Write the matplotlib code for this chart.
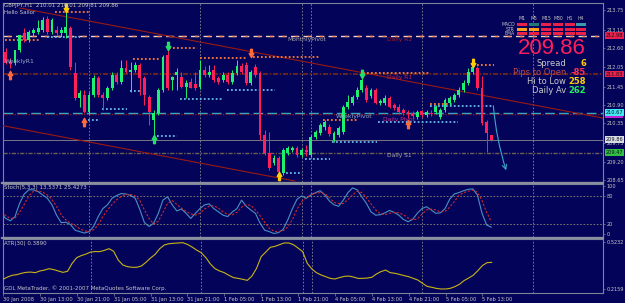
import numpy as np
import matplotlib
matplotlib.use('Agg')
import matplotlib.pyplot as plt
from matplotlib.path import Path
from matplotlib.patches import Rectangle

# GBPJPY H1, first bar 30 Jan 05:00, last bar 5 Feb 15:00
opens = [212.34, 212.49, 212.19, 212.16, 212.55, 213.06, 212.85, 213.06, 213.09, 213.15,
         213.48, 213.09, 213.15, 213.06, 213.06, 213.21, 211.86, 211.11, 211.20, 210.69,
         211.20, 211.71, 211.20, 211.11, 211.41, 211.80, 211.59, 212.01, 211.89, 211.95,
         212.10, 211.71, 211.14, 210.45, 210.66, 211.35, 212.40, 211.65, 211.80, 211.74,
         211.44, 211.59, 211.53, 211.44, 211.95, 211.80, 211.95, 211.71, 211.65, 211.80,
         211.59, 211.86, 212.07, 212.10, 211.56, 212.04, 211.86, 210.00, 209.46, 209.16,
         209.31, 208.86, 209.46, 209.55, 209.61, 209.40, 209.55, 209.40, 209.94, 210.06,
         210.24, 210.24, 209.85, 210.00, 210.09, 210.84, 210.96, 211.14, 211.35, 211.41,
         211.17, 211.35, 210.96, 210.96, 211.11, 210.90, 210.84, 210.75, 210.69, 210.66,
         210.54, 210.71, 210.60, 210.66, 210.69, 210.54, 210.75, 210.96, 211.05, 211.20,
         211.35, 211.56, 211.89, 212.01, 211.41, 210.39, 210.01]
highs = [212.55, 212.61, 212.31, 212.25, 212.64, 213.21, 213.15, 213.21, 213.45, 213.54,
         213.57, 213.51, 213.27, 213.24, 213.69, 213.27, 212.19, 211.35, 211.35, 211.29,
         211.80, 211.77, 211.29, 211.47, 211.89, 211.89, 212.25, 212.25, 212.19, 212.19,
         212.16, 211.77, 211.20, 210.75, 211.41, 212.40, 212.61, 211.77, 212.01, 211.89,
         211.65, 211.71, 211.89, 212.25, 212.07, 212.10, 212.10, 211.77, 211.89, 211.89,
         211.95, 212.25, 212.16, 212.19, 211.95, 212.13, 211.92, 210.15, 210.09, 209.40,
         209.37, 209.61, 209.67, 209.67, 209.67, 209.61, 209.70, 210.00, 210.15, 210.36,
         210.45, 210.33, 210.12, 210.27, 210.90, 211.20, 211.20, 211.44, 211.71, 211.50,
         211.41, 211.41, 211.08, 211.20, 211.17, 210.96, 210.93, 210.81, 210.75, 210.72,
         210.75, 210.75, 210.75, 210.75, 210.90, 210.81, 211.11, 211.17, 211.26, 211.44,
         211.65, 212.01, 212.13, 212.07, 211.77, 210.45, 210.01]
lows = [212.25, 212.13, 212.01, 212.10, 212.49, 212.79, 212.79, 212.97, 213.03, 213.09,
        213.03, 213.03, 213.00, 212.97, 212.91, 211.95, 211.05, 210.84, 210.66, 210.63,
        211.14, 211.14, 210.75, 211.05, 211.35, 211.53, 211.53, 211.86, 211.29, 211.89,
        211.20, 210.90, 210.30, 209.97, 210.60, 211.29, 211.35, 211.35, 211.35, 211.41,
        211.11, 211.41, 211.35, 211.38, 211.74, 211.74, 211.59, 211.53, 211.59, 211.53,
        211.53, 211.80, 211.83, 211.50, 211.50, 211.74, 209.85, 209.40, 208.95, 209.10,
        208.83, 208.80, 209.40, 209.49, 209.34, 209.34, 209.37, 209.34, 209.88, 210.00,
        210.15, 209.97, 209.79, 209.94, 210.03, 210.78, 210.90, 211.08, 211.29, 210.99,
        211.11, 210.93, 210.90, 210.90, 210.81, 210.75, 210.63, 210.60, 210.51, 210.51,
        210.48, 210.54, 210.54, 210.57, 210.63, 210.48, 210.69, 210.90, 210.99, 211.14,
        211.29, 211.50, 211.83, 211.35, 210.30, 209.49, 209.81]
closes = [212.49, 212.16, 212.13, 212.55, 213.00, 212.85, 213.09, 213.15, 213.21, 213.45,
          213.09, 213.45, 213.06, 213.15, 213.24, 212.04, 211.11, 211.26, 210.69, 211.20,
          211.71, 211.20, 211.11, 211.41, 211.80, 211.59, 212.01, 211.89, 211.95, 212.10,
          211.71, 211.20, 210.69, 210.66, 211.35, 212.34, 211.41, 211.74, 211.89, 211.44,
          211.56, 211.41, 211.41, 211.95, 211.80, 211.89, 211.65, 211.59, 211.80, 211.59,
          211.86, 212.07, 211.89, 211.56, 211.89, 211.80, 210.00, 209.46, 209.01, 209.31,
          208.89, 209.55, 209.61, 209.61, 209.40, 209.55, 209.49, 209.94, 210.09, 210.30,
          210.39, 210.03, 210.06, 210.21, 210.84, 210.99, 211.14, 211.35, 211.65, 211.05,
          211.35, 210.96, 211.02, 211.11, 210.84, 210.81, 210.69, 210.66, 210.63, 210.57,
          210.69, 210.60, 210.69, 210.63, 210.84, 210.75, 211.05, 211.11, 211.20, 211.35,
          211.56, 211.89, 212.04, 211.41, 210.36, 210.06, 209.86]

stoch_main = [43, 32, 27, 36, 64, 84, 93, 93, 89, 82, 75, 61, 39, 23, 24, 19, 7, 4, 1, 4,
              15, 36, 53, 61, 75, 81, 85, 84, 81, 75, 51, 23, 15, 22, 43, 71, 78, 61, 48, 52,
              43, 32, 43, 53, 61, 63, 53, 46, 39, 36, 46, 53, 71, 58, 50, 43, 22, 7, 4, 0,
              2, 9, 29, 53, 73, 80, 75, 82, 87, 91, 82, 69, 61, 58, 71, 87, 97, 93, 78, 64,
              46, 39, 40, 44, 49, 45, 39, 30, 25, 30, 43, 53, 57, 50, 43, 44, 53, 73, 84, 87,
              91, 94, 95, 82, 43, 18, 13.5]
stoch_signal = [45, 38, 32, 33, 45, 62, 80, 90, 91, 88, 82, 72, 58, 40, 29, 22, 17, 10, 6, 4,
                8, 18, 36, 50, 62, 72, 79, 83, 83, 80, 70, 50, 32, 20, 26, 45, 64, 70, 62, 54,
                47, 42, 39, 43, 52, 58, 59, 54, 46, 41, 40, 45, 56, 61, 60, 50, 38, 24, 11, 5,
                4, 6, 14, 30, 52, 68, 76, 82, 86, 87, 85, 76, 66, 64, 64, 72, 82, 90, 87, 76,
                63, 50, 42, 40, 43, 45, 44, 40, 33, 29, 31, 41, 50, 52, 50, 46, 47, 56, 68, 81,
                87, 90, 92, 88, 70, 45, 25.4]
atr = [0.279, 0.294, 0.305, 0.309, 0.318, 0.324, 0.326, 0.322, 0.333, 0.339,
       0.348, 0.342, 0.333, 0.324, 0.331, 0.383, 0.420, 0.433, 0.443, 0.456,
       0.459, 0.459, 0.467, 0.478, 0.461, 0.404, 0.372, 0.361, 0.357, 0.357,
       0.365, 0.389, 0.417, 0.441, 0.478, 0.502, 0.510, 0.513, 0.515, 0.517,
       0.506, 0.489, 0.469, 0.452, 0.420, 0.378, 0.348, 0.333, 0.322, 0.305,
       0.290, 0.285, 0.279, 0.272, 0.300, 0.350, 0.426, 0.456, 0.487, 0.493,
       0.504, 0.515, 0.515, 0.504, 0.482, 0.459, 0.383, 0.346, 0.322, 0.307,
       0.296, 0.285, 0.281, 0.290, 0.298, 0.300, 0.294, 0.285, 0.285, 0.287,
       0.292, 0.313, 0.329, 0.339, 0.322, 0.318, 0.311, 0.303, 0.296, 0.285,
       0.274, 0.253, 0.233, 0.227, 0.220, 0.216, 0.216, 0.220, 0.231, 0.246,
       0.270, 0.287, 0.305, 0.335, 0.368, 0.387, 0.389]

time_labels = ['30 Jan 2008', '30 Jan 13:00', '30 Jan 21:00', '31 Jan 05:00', '31 Jan 13:00',
               '31 Jan 21:00', '1 Feb 05:00', '1 Feb 13:00', '1 Feb 21:00', '4 Feb 05:00',
               '4 Feb 13:00', '4 Feb 21:00', '5 Feb 05:00', '5 Feb 13:00']
time_label_bars = [0, 8, 16, 24, 32, 40, 48, 56, 64, 72, 80, 88, 96, 104]
separator_bars = [19, 43, 65, 67, 91, 115]

price_ticks = [213.75, 213.15, 212.60, 212.05, 211.45, 210.90, 210.35, 209.75, 209.20, 208.65]
stoch_ticks = [100, 80, 20, 0]
atr_ticks = [0.2159, 0.5232]

# fractal arrows
arrow_bars = [14, 2, 36, 54, 78, 18, 33, 60, 88, 102]
arrow_prices = [213.80, 211.80, 212.67, 212.46, 211.83, 210.39, 209.88, 208.77, 210.33, 212.16]
arrow_up = [False, True, False, False, False, True, True, True, True, False]
arrow_colors = ['#ffcc00', '#ff6a3a', '#22e066', '#ff6a3a', '#22e066',
                '#ff6a3a', '#22e066', '#ffcc00', '#ff6a3a', '#ffcc00']

# dotted resistance (orange) and support (light blue) runs
res_start = [11.7, 0.8, 36.3, 28.5, 43.0, 54.5, 69.6, 103.0, 78.2, 92.7]
res_end = [19.2, 8.4, 42.4, 34.4, 53.2, 69.0, 77.0, 106.5, 92.7, 98.0]
res_price = [213.69, 212.85, 212.61, 212.28, 212.31, 212.34, 210.45, 212.10, 211.86, 210.93]
sup_start = [9.9, 27.9, 38.7, 48.9, 21.8, 18.8, 33.7, 61.6, 65.7, 71.5, 81.5, 92.7]
sup_end = [17.1, 30.0, 48.0, 59.2, 27.2, 21.4, 38.0, 65.0, 71.1, 81.3, 98.8, 106.4]
sup_price = [212.94, 211.32, 211.08, 211.35, 210.78, 210.45, 209.97, 208.86, 209.28, 209.79, 210.39, 210.87]

# pivot levels and price boxes
r2_level, r1_level, wpivot_level, dpivot_level, bid_level, s1_level = 212.98, 211.83, 210.67, 210.62, 209.86, 209.47
box_prices = [212.98, 211.83, 210.67, 209.86, 209.47]
box_labels = ['212.98', '211.83', '210.67', '209.86', '209.47']
box_colors = ['#e8204a', '#e8204a', '#40e8f0', '#d8dde4', '#30c040']

# trendlines (bar, price)
upper_trend = [(4.1, 213.81), (130.1, 210.51)]
lower_trend = [(0.0, 210.29), (63.5, 208.62)]

tf_cols = ['M1', 'M5', 'M15', 'M30', 'H1', 'H4']
tf_rows = ['MACD', 'STR', 'EMA']
R, T, O, T2 = '#e8204a', '#1f7a7a', '#ffa020', '#3a9aa8'
tf_colors = [[R, T, R, R, R, T2], [O, O, R, R, R, R], [R, R, R, R, R, R]]

BG = '#03035a'
FRAME = '#7e8498'
TXT = '#c8c8c8'
BULL = '#1ef070'
BEAR = '#ff1f5a'

W, H = 625, 303


def fx(x):
    return x / W


def fy(y):
    return 1 - y / H


fig = plt.figure(figsize=(6.25, 3.03), dpi=100, facecolor=BG)
ax = fig.add_axes([fx(3), fy(182), 600 / W, 179 / H], facecolor=BG)
ax_st = fig.add_axes([fx(3), fy(237), 600 / W, 53 / H], facecolor=BG)
ax_atr = fig.add_axes([fx(3), fy(293), 600 / W, 54 / H], facecolor=BG)

xlo, xhi = 0.41, 130.16
for a in (ax, ax_st, ax_atr):
    a.set_xlim(xlo, xhi)
    for s in a.spines.values():
        s.set_color(FRAME)
        s.set_linewidth(0.8)
    a.yaxis.tick_right()
    a.tick_params(axis='y', colors=FRAME, labelcolor=TXT, labelsize=3.6, length=1.5, width=0.5, pad=1)
    for b in separator_bars:
        a.axvline(b, color='#8a8a90', lw=0.6, ls=(0, (2, 2)), zorder=1)
    a.set_xticks([])

ax.set_ylim(208.59, 213.96)
ax_st.set_ylim(-7.4, 105.3)
ax_atr.set_ylim(0.1899, 0.5408)

# ---- main panel ----
ax.set_yticks(price_ticks)
ax.set_yticklabels(['%.2f' % p for p in price_ticks])

ax.axhline(r2_level, color='#f2d2c0', lw=1.0, ls=(0, (6, 3)), zorder=2)
ax.axhline(r2_level, color='#ff7a40', lw=1.0, ls=(6, (2, 7)), zorder=2)
ax.axhline(r1_level, color='#7a2a12', lw=1.2, ls=(0, (3, 1, 1, 1)), zorder=2)
ax.axhline(wpivot_level, color='#30b8c8', lw=1.0, ls=(0, (7, 3)), zorder=2)
ax.axhline(dpivot_level, color='#8a1a2a', lw=1.0, ls=(0, (1, 1)), zorder=2)
ax.axhline(bid_level, color='#8a8a8a', lw=0.6, zorder=2)
ax.axhline(s1_level, color='#6c6050', lw=1.0, ls=(0, (3, 1, 1, 1)), zorder=2)

(x0, y0), (x1, y1) = upper_trend
ax.plot([x0, x1], [y0, y1], color='#9a1a10', lw=0.8, zorder=3)
(x0, y0), (x1, y1) = lower_trend
ax.plot([x0, x1], [y0, y1], color='#9a1a10', lw=0.8, zorder=3)

for s, e, p in zip(res_start, res_end, res_price):
    ax.plot([s, e], [p, p], color='#ff7a30', lw=1.3, ls=(0, (1, 1.2)), zorder=3)
for s, e, p in zip(sup_start, sup_end, sup_price):
    ax.plot([s, e], [p, p], color='#6ab8e8', lw=1.3, ls=(0, (1, 1.2)), zorder=3)

xb = np.arange(len(closes))
o = np.array(opens)
c = np.array(closes)
cols = np.where(c >= o, BULL, BEAR)
ax.vlines(xb, lows, highs, colors=cols, lw=0.7, zorder=4)
ax.bar(xb, np.maximum(np.abs(c - o), 0.015), bottom=np.minimum(o, c), width=0.62,
       color=cols, lw=0, zorder=5)

down_arrow = Path([(-0.22, 1), (0.22, 1), (0.22, 0), (0.55, 0), (0, -1), (-0.55, 0), (-0.22, 0), (-0.22, 1)],
                  [1, 2, 2, 2, 2, 2, 2, 79])
up_arrow = Path([(vx, -vy) for vx, vy in down_arrow.vertices], down_arrow.codes)
for b, p, u, col in zip(arrow_bars, arrow_prices, arrow_up, arrow_colors):
    ax.plot(b, p, marker=up_arrow if u else down_arrow, ms=6, color=col, mec=col, zorder=6)

ax.annotate('', xy=(109.4, 208.86), xytext=(106.4, 210.96),
            arrowprops=dict(arrowstyle='->', color='#3aa8c8', lw=0.8,
                            connectionstyle='arc3,rad=0.06', mutation_scale=8), zorder=6)

lab = dict(fontsize=4.3, va='center', zorder=7)
ax.text(62.0, 212.88, 'MonthlyPivot', color='#a8a8a8', **lab)
ax.text(83.4, 212.88, 'Daily R2', color='#a82020', **lab)
ax.text(83.4, 211.74, 'Daily R1', color='#c02848', **lab)
ax.text(0.9, 212.22, 'WeeklyR1', color='#9ab0c8', **lab)
ax.text(72.4, 210.57, 'WeeklyPivot', color='#98b0c0', **lab)
ax.text(82.6, 210.48, 'Daily Pivot', color='#d8308a', **lab)
ax.text(83.4, 209.37, 'Daily S1', color='#a8a8a8', **lab)

for p, t, bc in zip(box_prices, box_labels, box_colors):
    ax.text(1.004, p, t, transform=ax.get_yaxis_transform(), fontsize=3.6, color='#101020',
            va='center', ha='left', zorder=8, clip_on=False,
            bbox=dict(boxstyle='square,pad=0.15', fc=bc, ec='none'))
ax.add_patch(Rectangle((1.003, 210.505), 0.03, 0.07, transform=ax.get_yaxis_transform(),
                       fc='#c020d0', ec='none', clip_on=False, zorder=7))

# ---- stochastic ----
ax_st.set_yticks(stoch_ticks)
ax_st.set_yticklabels([str(v) for v in stoch_ticks])
ax_st.axhline(80, color='#8a8a70', lw=0.6, ls=(0, (2, 2)))
ax_st.axhline(20, color='#8a8a70', lw=0.6, ls=(0, (2, 2)))
ax_st.plot(xb, stoch_main, color='#4a90c0', lw=0.8, zorder=3)
ax_st.plot(xb, stoch_signal, color='#d02828', lw=0.8, ls=(0, (2, 1.5)), zorder=3)

# ---- ATR ----
ax_atr.set_yticks(atr_ticks)
ax_atr.set_yticklabels(['%.4f' % v for v in atr_ticks])
ax_atr.plot(xb, atr, color='#c8b414', lw=0.8, zorder=3)
ax_atr.set_xticks(time_label_bars)
ax_atr.set_xticklabels(time_labels, fontsize=3.7, color=TXT, ha='left')
ax_atr.tick_params(axis='x', colors=FRAME, labelcolor=TXT, length=2, width=0.5, pad=1)

# panel separators
for yy in (182.5, 237.5):
    fig.add_artist(plt.Line2D([fx(2), fx(603)], [fy(yy), fy(yy)], color='#8a90a0', lw=1.6))

# ---- texts ----
ft = dict(color=TXT, fontsize=4.0, va='center', ha='left')
fig.text(fx(4), fy(5), 'GBPJPY,H1  210.01 210.01 209.81 209.86', **ft)
fig.text(fx(4), fy(12), 'Hello Sailor', **ft)
fig.text(fx(4), fy(188), 'Stoch(5,3,3) 13.5371 25.4273', **ft)
fig.text(fx(4), fy(243), 'ATR(30) 0.3890', **ft)
fig.text(fx(4), fy(288), 'GDL MetaTrader, \u00a9 2001-2007 MetaQuotes Software Corp.', **ft)

col_x = [522, 534, 546, 558, 569.5, 581]
row_y = [24.5, 29.5, 33.5]
for cx, name in zip(col_x, tf_cols):
    fig.text(fx(cx), fy(18.5), name, color=TXT, fontsize=3.3, ha='center', va='center')
for ry, name, rc in zip(row_y, tf_rows, tf_colors):
    fig.text(fx(515), fy(ry), name, color=TXT, fontsize=3.3, ha='right', va='center')
    for cx, cc in zip(col_x, rc):
        fig.add_artist(Rectangle((fx(cx - 5), fy(ry + 1.6)), 10 / W, 3.2 / H, fc=cc, ec='none'))

fig.text(fx(586), fy(49), '209.86', color='#ff1f5a', fontsize=16, ha='right', va='center',
         family='Liberation Sans')
info_rows = [('Spread', '6', TXT, '#ffd000'),
             ('Pips to Open', '-85', '#c04848', '#ff3050'),
             ('Hi to Low', '258', TXT, '#ffd000'),
             ('Daily Av', '262', TXT, '#22f060')]
for k, (name, val, c1, c2) in enumerate(info_rows):
    yy = 64 + k * 8.9
    fig.text(fx(566), fy(yy), name, color=c1, fontsize=6, ha='right', va='center')
    fig.text(fx(586), fy(yy), val, color=c2, fontsize=6, ha='right', va='center', weight='bold')

fig.savefig('out.png', dpi=100, facecolor=BG)
